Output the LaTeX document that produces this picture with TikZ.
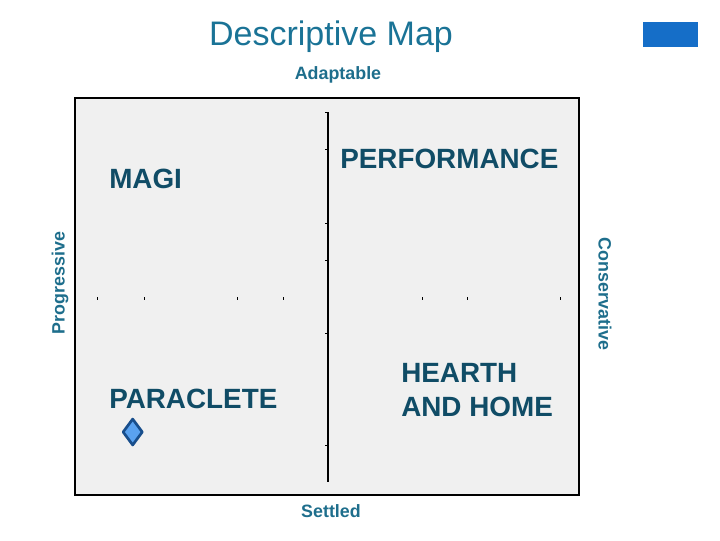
\documentclass[tikz,border=0pt]{standalone}
\usepackage{fontspec}
\setmainfont{Liberation Sans}
\usepackage{tikz}
\definecolor{titleteal}{RGB}{26,115,150}
\definecolor{axisteal}{RGB}{30,110,140}
\definecolor{quadteal}{RGB}{16,76,102}
\definecolor{panelgray}{RGB}{240,240,240}
\definecolor{tabblue}{RGB}{21,110,200}
\definecolor{markfill}{RGB}{90,162,240}
\definecolor{markline}{RGB}{24,78,140}

\begin{document}
\begin{tikzpicture}[x=0.025cm,y=-0.025cm,
    axlbl/.style={inner sep=0pt,text=axisteal,font=\fontsize{12.7}{14}\selectfont\bfseries},
    quad/.style={inner sep=0pt,anchor=west,text=quadteal,align=left,font=\fontsize{19.8}{24.2}\selectfont\bfseries}]
    \useasboundingbox (0,0) rectangle (720,540);
    % heading and tab
    \node[inner sep=0pt,text=titleteal,font=\fontsize{24.2}{28}\selectfont] (title) at (331,37) {Descriptive Map};
    \fill[tabblue] (643,22) rectangle (698,47);
    % panel
    \draw[line width=1.1pt,fill=panelgray] (75,98) rectangle (579,495);
    \draw[line width=1pt] (328,112) -- (328,482);
    	\foreach \y in {112,149,223,260,333,445}
     		\draw[line width=0.6pt] (328,\y) -- (325,\y);
    	\foreach \x in {97,144,237,283,422,467,560}
     		\draw[line width=0.6pt] (\x,297) -- (\x,300);
    % axis names
    \node[axlbl] (top) at (338,75) {Adaptable};
    \node[axlbl] (bottom) at (331,511) {Settled};
    \node[axlbl,rotate=90] (left) at (60,283) {Progressive};
    \node[axlbl,rotate=-90] (right) at (605,294) {Conservative};
    % quadrants
    \node[quad] (magi) at (109,179) {MAGI};
    \node[quad] (perf) at (340,159) {PERFORMANCE};
    \node[quad] (para) at (109,399) {PARACLETE};
    \node[quad] (hearth) at (401,390) {HEARTH\\AND HOME};
    % data point
    \coordinate (mark) at (132.7,432);
    \draw[markline,fill=markfill,line width=1.9pt,line join=round]
        ([yshift=9.2pt]mark) -- ([xshift=6.8pt]mark) -- ([yshift=-9.2pt]mark) -- ([xshift=-6.8pt]mark) -- cycle;
\end{tikzpicture}
\end{document}
